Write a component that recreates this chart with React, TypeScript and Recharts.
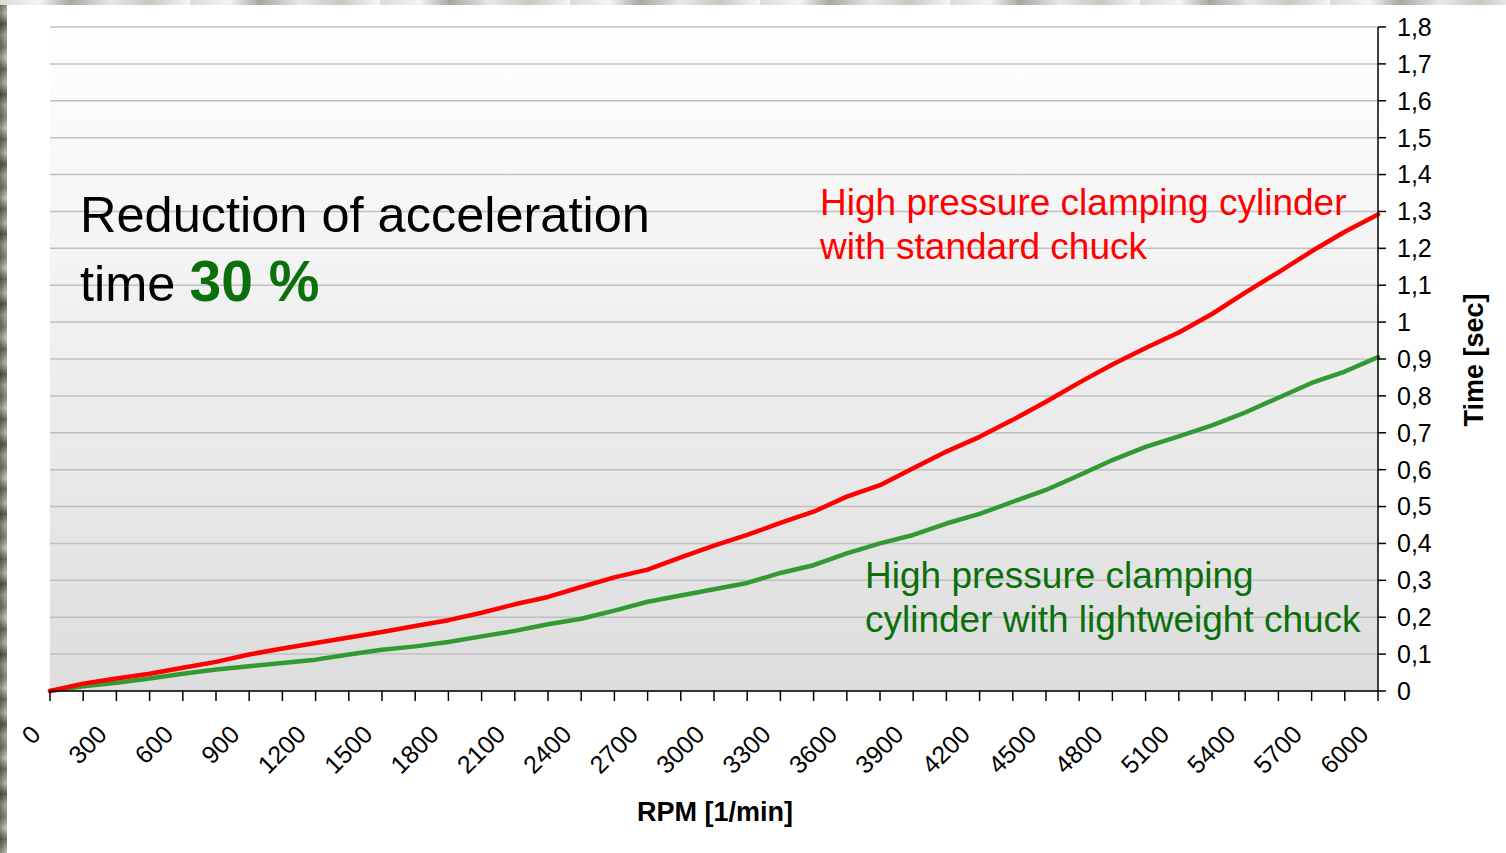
import React from 'react';
import { LineChart, Line, XAxis, YAxis, CartesianGrid } from 'recharts';

const rpm = [
  0, 150, 300, 450, 600, 750, 900, 1050, 1200, 1350, 1500, 1650, 1800, 1950, 2100, 2250, 2400, 2550, 2700, 2850,
  3000, 3150, 3300, 3450, 3600, 3750, 3900, 4050, 4200, 4350, 4500, 4650, 4800, 4950, 5100, 5250, 5400, 5550, 5700,
  5850, 6000,
];

const standardChuck = [
  0, 0.02, 0.034, 0.047, 0.063, 0.079, 0.099, 0.115, 0.13, 0.145, 0.16, 0.176, 0.192, 0.212, 0.235, 0.255, 0.282,
  0.308, 0.329, 0.362, 0.394, 0.423, 0.456, 0.486, 0.527, 0.558, 0.604, 0.649, 0.689, 0.735, 0.784, 0.836, 0.885,
  0.93, 0.972, 1.022, 1.08, 1.135, 1.192, 1.245, 1.292,
];

const lightweightChuck = [
  0, 0.013, 0.022, 0.034, 0.047, 0.058, 0.067, 0.076, 0.085, 0.099, 0.112, 0.121, 0.133, 0.148, 0.163, 0.181, 0.196,
  0.218, 0.242, 0.259, 0.276, 0.293, 0.32, 0.341, 0.373, 0.4, 0.423, 0.454, 0.48, 0.513, 0.545, 0.585, 0.626, 0.662,
  0.69, 0.72, 0.755, 0.795, 0.835, 0.866, 0.905,
];

const yTicks = [0, 0.1, 0.2, 0.3, 0.4, 0.5, 0.6, 0.7, 0.8, 0.9, 1, 1.1, 1.2, 1.3, 1.4, 1.5, 1.6, 1.7, 1.8];
const xTicks = rpm;
const xLabelStep = 300;

const data = rpm.map((r, i) => ({ rpm: r, standard: standardChuck[i], lightweight: lightweightChuck[i] }));

const FONT = '"Liberation Sans", Arial, sans-serif';
const GREEN_TEXT = '#0b6f0b';

const XTick = (props: any) => {
  const { x, y, payload } = props;
  const v = payload.value;
  if (v % xLabelStep !== 0) return null;
  const ax = x - 8;
  const ay = y + 33;
  return (
    <text
      x={ax}
      y={ay}
      textAnchor="end"
      transform={`rotate(-45, ${ax}, ${ay})`}
      fontFamily={FONT}
      fontSize={25}
      fill="#000"
    >
      {String(v)}
    </text>
  );
};

const fmtY = (v: number) => {
  const r = Math.round(v * 10) / 10;
  return String(r).replace('.', ',');
};

export default function App() {
  return (
    <div style={{ position: 'absolute', left: 0, top: 0, width: 1506, height: 853, overflow: 'hidden', background: '#b8b8b0' }}>
      <div
        style={{
          position: 'absolute',
          left: 0,
          top: 0,
          width: 7,
          height: 853,
          background:
            'linear-gradient(90deg, #9a9a92 0px, #c8c8c0 4px, #e2e2dc 7px), repeating-linear-gradient(180deg, #8a8a82 0px, #d9d9d2 13px, #6f6f68 24px, #c4c4bc 35px, #9a9a92 47px, #e6e6e0 58px, #7a7a72 70px)',
          backgroundBlendMode: 'multiply',
        }}
      />
      <div
        style={{
          position: 'absolute',
          left: 0,
          top: 0,
          width: 1506,
          height: 5,
          background:
            'repeating-linear-gradient(90deg, #dcdcd6 0px, #f4f4f0 40px, #a8a8a0 70px, #e8e8e4 110px, #c8c8c0 150px, #f6f6f4 190px)',
        }}
      />
      <div style={{ position: 'absolute', left: 7, top: 5, width: 1499, height: 848, background: '#ffffff' }} />
      <div style={{ position: 'absolute', left: 0, top: 0 }}>
        <LineChart width={1506} height={853} data={data} margin={{ top: 27, right: 8, bottom: 0, left: 50 }}>
          <defs>
            <linearGradient id="plotBg" x1="0" y1="0" x2="0" y2="1">
              <stop offset="0%" stopColor="#ffffff" />
              <stop offset="100%" stopColor="#dddddd" />
            </linearGradient>
          </defs>
          <CartesianGrid
            vertical={false}
            stroke="#c0c0c0"
            strokeWidth={1.5}
            fill="url(#plotBg)"
            fillOpacity={1}
          />
          <XAxis
            dataKey="rpm"
            type="number"
            domain={[0, 6000]}
            ticks={xTicks}
            interval={0}
            height={162}
            tickSize={10}
            tickMargin={2}
            axisLine={{ stroke: '#000', strokeWidth: 1.5 }}
            tickLine={{ stroke: '#000', strokeWidth: 1.5 }}
            tick={<XTick />}
            allowDecimals={false}
          />
          <YAxis
            orientation="right"
            type="number"
            domain={[0, 1.8]}
            ticks={yTicks}
            interval={0}
            width={120}
            tickSize={8}
            tickMargin={11}
            tickFormatter={fmtY}
            axisLine={{ stroke: '#000', strokeWidth: 1.5 }}
            tickLine={{ stroke: '#000', strokeWidth: 1.5 }}
            tick={{ fontFamily: FONT, fontSize: 25, fill: '#000' }}
          />
          <Line
            type="linear"
            dataKey="lightweight"
            stroke="#339933"
            strokeWidth={4.5}
            strokeLinejoin="round"
            strokeLinecap="round"
            dot={false}
            isAnimationActive={false}
          />
          <Line
            type="linear"
            dataKey="standard"
            stroke="#ff0000"
            strokeWidth={4.5}
            strokeLinejoin="round"
            strokeLinecap="round"
            dot={false}
            isAnimationActive={false}
          />
        </LineChart>
      </div>
      <svg
        width={1506}
        height={853}
        style={{ position: 'absolute', left: 0, top: 0, pointerEvents: 'none' }}
        fontFamily={FONT}
      >
        <text x={80} y={232} fontSize={50.5} fill="#000">
          Reduction of acceleration
        </text>
        <text x={80} y={301} fontSize={50.5} fill="#000">
          time{' '}
          <tspan fontWeight="bold" fontSize={57} fill={GREEN_TEXT}>
            30 %
          </tspan>
        </text>
        <text x={820} y={215} fontSize={37} fill="#ff0000">
          High pressure clamping cylinder
        </text>
        <text x={820} y={259} fontSize={37} fill="#ff0000">
          with standard chuck
        </text>
        <text x={865} y={588} fontSize={37} fill={GREEN_TEXT}>
          High pressure clamping
        </text>
        <text x={865} y={632} fontSize={37} fill={GREEN_TEXT}>
          cylinder with lightweight chuck
        </text>
        <text x={715} y={821} fontSize={27} fontWeight="bold" fill="#000" textAnchor="middle">
          RPM [1/min]
        </text>
        <text
          x={1483}
          y={360}
          fontSize={27}
          fontWeight="bold"
          fill="#000"
          textAnchor="middle"
          transform="rotate(-90, 1483, 360)"
        >
          Time [sec]
        </text>
      </svg>
    </div>
  );
}
